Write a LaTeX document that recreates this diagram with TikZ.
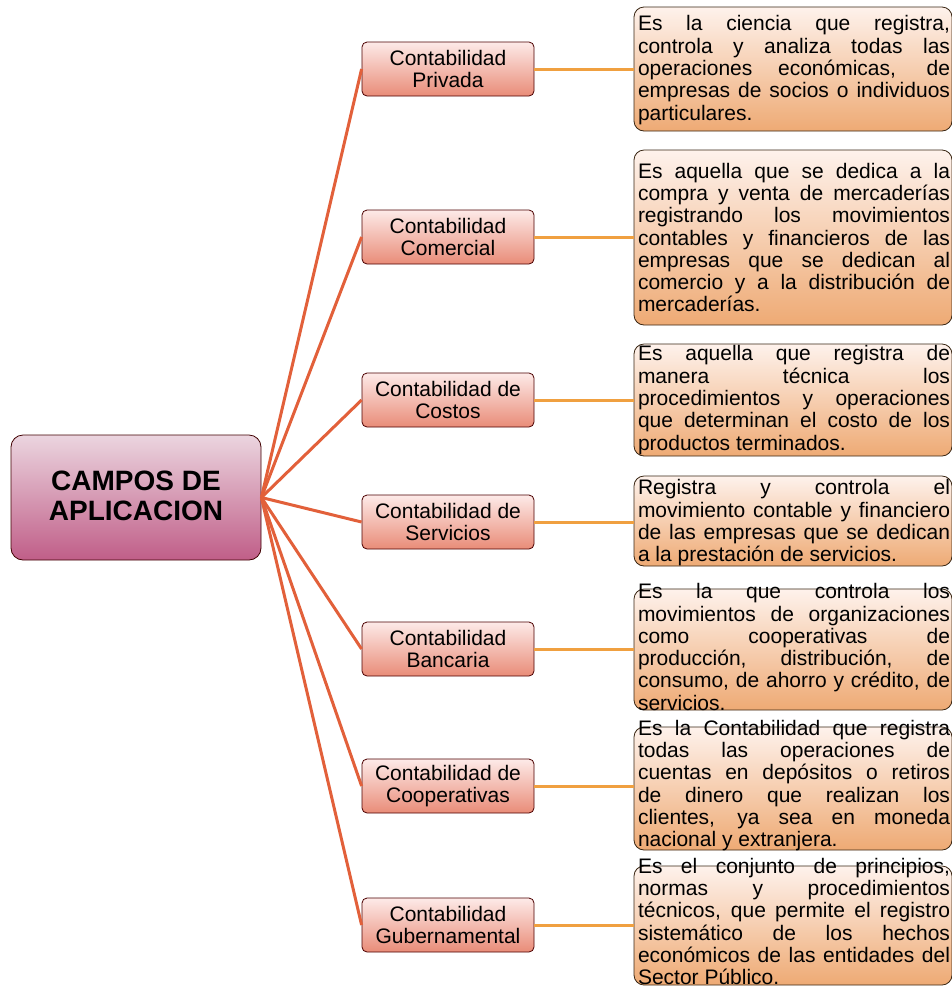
\documentclass[tikz,border=0pt]{standalone}
\usepackage{fontspec}
\setmainfont{Liberation Sans}
\newlength\rtw
\setlength\rtw{312pt}
\newcommand\jl[1]{\makebox[\rtw][s]{#1}\\}
\definecolor{redln}{HTML}{E2603A}
\definecolor{orln}{HTML}{F0A040}
\definecolor{ctop}{HTML}{EBD5DF}
\definecolor{cbot}{HTML}{C05E88}
\definecolor{mtop}{HTML}{FDEAE8}
\definecolor{mbot}{HTML}{E98C78}
\definecolor{rtop}{HTML}{FEF2EC}
\definecolor{rbot}{HTML}{EEAA74}
\tikzset{
  cbox/.style={draw=black!75!red, line width=0.8pt, rounded corners=12pt, top color=ctop, bottom color=cbot, minimum width=250pt, minimum height=125pt, inner sep=0pt},
  mbox/.style={draw=black!70!red, line width=0.8pt, rounded corners=5pt, top color=mtop, bottom color=mbot, minimum width=172pt, minimum height=54pt, inner sep=0pt, align=center, font=\fontsize{21}{22}\selectfont},
  rbox/.style={draw=black!70!brown, line width=0.8pt, rounded corners=10pt, top color=rtop, bottom color=rbot, minimum width=318pt, inner sep=0pt},
  rtext/.style={inner sep=0pt, align=left, font=\fontsize{21}{22.3}\selectfont},
  redline/.style={draw=redln, line width=3pt},
  orline/.style={draw=orln, line width=3pt}
}
\begin{document}
\begin{tikzpicture}[x=1pt,y=-1pt]
\useasboundingbox (0,0) rectangle (952,989);
% central
\node[cbox] (c) at (136,497.5) {};
\node[inner sep=0pt, align=center, font=\fontsize{28}{30}\selectfont\bfseries] (ct) at ([yshift=1.5pt]c.center) {CAMPOS DE\\APLICACION};
% middle boxes
\node[mbox] (m1) at (448,69) {Contabilidad\\Privada};
\node[mbox] (m2) at (448,237) {Contabilidad\\Comercial};
\node[mbox] (m3) at (448,400) {Contabilidad de\\Costos};
\node[mbox] (m4) at (448,522) {Contabilidad de\\Servicios};
\node[mbox] (m5) at (448,649) {Contabilidad\\Bancaria};
\node[mbox] (m6) at (448,786) {Contabilidad de\\Cooperativas};
\node[mbox] (m7) at (448,925) {Contabilidad\\Gubernamental};
% right boxes
\node[rbox, minimum height=124pt] (r1) at (793,69) {};
\node[rbox, minimum height=175pt] (r2) at (793,237.5) {};
\node[rbox, minimum height=112pt] (r3) at (793,400) {};
\node[rbox, minimum height=90pt] (r4) at (793,521) {};
\node[rbox, minimum height=121pt] (r5) at (793,649.5) {};
\node[rbox, minimum height=123pt] (r6) at (793,788.5) {};
\node[rbox, minimum height=119pt] (r7) at (793,925.5) {};
% connectors
\foreach \m in {m1,m2,m3,m4,m5,m6,m7} \draw[redline] (c.east) -- (\m.west);
\foreach \m/\r in {m1/r1,m2/r2,m3/r3,m4/r4,m5/r5,m6/r6,m7/r7} \draw[orline] (\m.east) -- (\m.east -| \r.west);
% texts
\node[rtext] (t1) at ([xshift=1pt,yshift=-1pt]r1.center) {\jl{Es la ciencia que registra,}\jl{controla y analiza todas las}\jl{operaciones económicas, de}\jl{empresas de socios o individuos}particulares.};
\node[rtext] (t2) at ([xshift=1pt]r2.center) {\jl{Es aquella que se dedica a la}\jl{compra y venta de mercaderías}\jl{registrando los movimientos}\jl{contables y financieros de las}\jl{empresas que se dedican al}\jl{comercio y a la distribución de}mercaderías.};
\node[rtext] (t3) at ([xshift=1pt]r3.center) {\jl{Es aquella que registra de}\jl{manera técnica los}\jl{procedimientos y operaciones}\jl{que determinan el costo de los}productos terminados.};
\node[rtext] (t4) at ([xshift=1pt,yshift=-2pt]r4.center) {\jl{Registra y controla el}\jl{movimiento contable y financiero}\jl{de las empresas que se dedican}a la prestación de servicios.};
\node[rtext] (t5) at ([xshift=1pt,yshift=2.5pt]r5.center) {\jl{Es la que controla los}\jl{movimientos de organizaciones}\jl{como cooperativas de}\jl{producción, distribución, de}\jl{consumo, de ahorro y crédito, de}servicios.};
\node[rtext] (t6) at ([xshift=1pt,yshift=3pt]r6.center) {\jl{Es la Contabilidad que registra}\jl{todas las operaciones de}\jl{cuentas en depósitos o retiros}\jl{de dinero que realizan los}\jl{clientes, ya sea en moneda}nacional y extranjera.};
\node[rtext] (t7) at ([xshift=1pt,yshift=4pt]r7.center) {\jl{Es el conjunto de principios,}\jl{normas y procedimientos}\jl{técnicos, que permite el registro}\jl{sistemático de los hechos}\jl{económicos de las entidades del}Sector Público.};
\end{tikzpicture}
\end{document}
